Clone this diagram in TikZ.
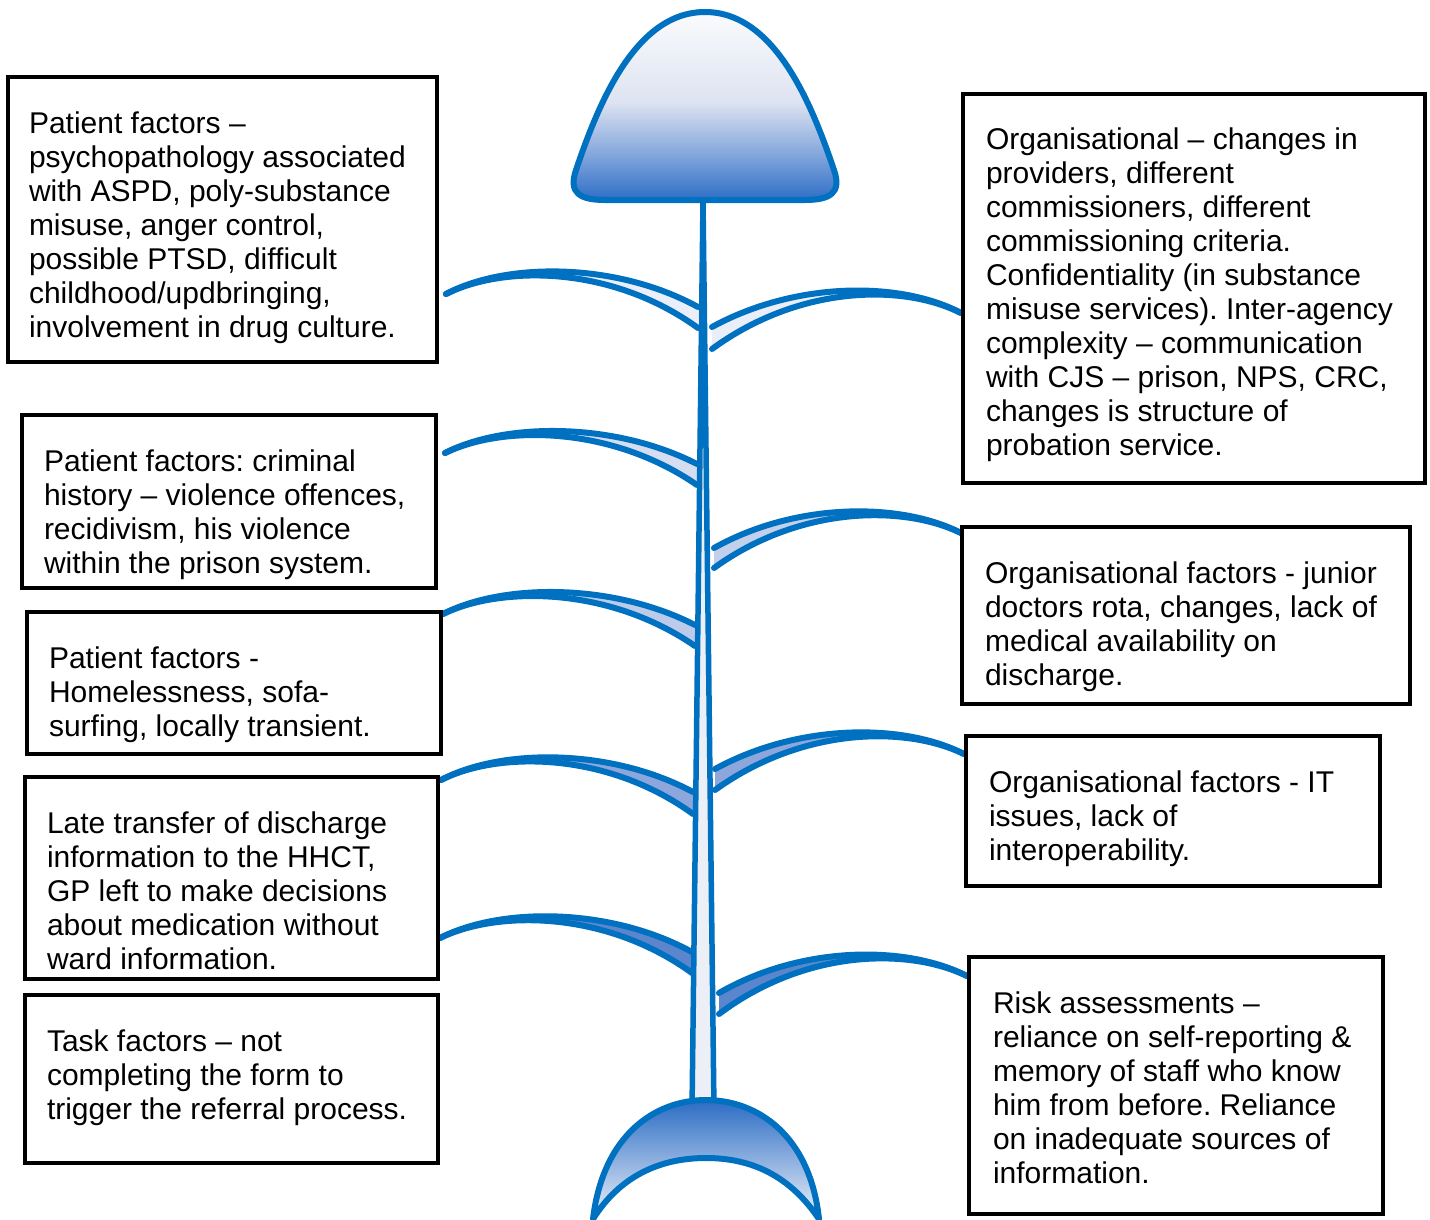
\documentclass[tikz,border=0pt]{standalone}
\usepackage{fontspec}
\setmainfont{Liberation Sans}
\frenchspacing
\definecolor{fishblue}{RGB}{0,112,192}
\definecolor{headA}{RGB}{46,110,198}
\definecolor{headB}{RGB}{137,170,221}
\definecolor{headC}{RGB}{221,227,241}
\definecolor{headD}{RGB}{250,251,253}
\definecolor{tailblue}{RGB}{43,108,196}
\definecolor{tailmid}{RGB}{160,182,226}
\definecolor{taillight}{RGB}{238,242,250}
\definecolor{spinefill}{RGB}{236,239,245}
\definecolor{ribA}{RGB}{233,238,248}
\definecolor{ribB}{RGB}{213,221,240}
\definecolor{ribC}{RGB}{195,208,236}
\definecolor{ribD}{RGB}{188,203,234}
\definecolor{ribE}{RGB}{141,166,220}
\definecolor{ribF}{RGB}{91,134,206}

% head gradient: white at the top, deep blue at the bottom
\pgfdeclareverticalshading{headshade}{100bp}{%
  color(0bp)=(headA); color(25bp)=(headA); color(38bp)=(headB);
  color(51bp)=(headC); color(75bp)=(headD); color(100bp)=(headD)}

% left rib: tip x, tip y, crest y, spine x, upper end y, lower end y, fill
\newcommand\fishribleft[7]{%
  \fill[#7] (#1,#2)
    .. controls ({#1+60},{#3-8}) and ({#1+170},{#3-8}) .. (#4,#5)
    -- (#4,#6)
    .. controls ({#1+168},{#3-3}) and ({#1+60},{#3-6}) .. (#1,#2) -- cycle;
  \draw[bone] (#1,#2) .. controls ({#1+60},{#3-8}) and ({#1+170},{#3-8}) .. (#4,#5);
  \draw[bone] (#4,#6) .. controls ({#1+168},{#3-3}) and ({#1+60},{#3-6}) .. (#1,#2);}
% right rib: tip x, tip y, crest y, spine x, upper end y, lower end y, fill
\newcommand\fishribright[7]{%
  \fill[#7] (#1,#2)
    .. controls ({#1-60},{#3-8}) and ({#1-165},{#3-8}) .. (#4,#5)
    -- (#4,#6)
    .. controls ({#1-163},{#3-3}) and ({#1-60},{#3-6}) .. (#1,#2) -- cycle;
  \draw[bone] (#1,#2) .. controls ({#1-60},{#3-8}) and ({#1-165},{#3-8}) .. (#4,#5);
  \draw[bone] (#4,#6) .. controls ({#1-163},{#3-3}) and ({#1-60},{#3-6}) .. (#1,#2);}

\begin{document}
\begin{tikzpicture}[x=1pt,y=-1pt,
  box/.style={draw=black, line width=4pt, inner sep=0pt, outer sep=0pt, anchor=north west},
  txt/.style={anchor=north west, inner sep=0pt, outer sep=0pt, align=left,
              font=\fontsize{30}{34}\selectfont, text=black},
  bone/.style={draw=fishblue, line width=6pt, line join=round, line cap=round},
]
\useasboundingbox[fill=white] (0,0) rectangle (1430,1219);

% ribs, left side
\fishribleft{446}{294}{270}{698}{307}{328}{ribA}
\fishribleft{445}{453}{430}{697}{464}{485}{ribB}
\fishribleft{443}{614}{591}{695}{625}{646}{ribD}
\fishribleft{441}{780}{756}{693}{792}{814}{ribE}
\fishribleft{440}{938}{915}{692}{952}{973}{ribF}

% ribs, right side
\fishribright{961}{313}{289}{712}{327}{349}{ribA}
\fishribright{961}{533}{510}{714}{548}{568}{ribC}
\fishribright{964}{754}{731}{715}{769}{790}{ribE}
\fishribright{967}{976}{953}{719}{993}{1014}{ribF}

% spine
\fill[spinefill] (703,200) -- (692,1110) -- (714,1110) -- cycle;
\draw[bone, line width=5.5pt, line cap=butt] (703,200) -- (692,1110);
\draw[bone, line width=5.5pt, line cap=butt] (703,200) -- (714,1110);

% head
\shadedraw[bone, shading=headshade]
  (705,12) .. controls (775,12) and (812,105) .. (834,170)
  .. controls (842,193) and (830,200) .. (805,200) -- (605,200)
  .. controls (580,200) and (568,193) .. (576,170)
  .. controls (598,105) and (635,12) .. (705,12) -- cycle;

% tail
\shadedraw[bone, top color=tailblue, middle color=tailmid, bottom color=taillight]
  (593,1219) .. controls (603,1135) and (655,1100) .. (706,1100)
  .. controls (757,1100) and (810,1135) .. (819,1219)
  .. controls (790,1176) and (752,1158) .. (706,1158)
  .. controls (660,1158) and (620,1176) .. (593,1219) -- cycle;

% cause boxes, left
\node[box, minimum width=429, minimum height=285] (bL1) at (8,77) {};
\node[txt] (tL1) at ([xshift=21pt,yshift=-35pt]bL1.north west)
  {Patient factors –\\psychopathology associated\\with ASPD, poly-substance\\misuse, anger control,\\possible PTSD, difficult\\childhood/updbringing,\\involvement in drug culture.};

\node[box, minimum width=414, minimum height=173] (bL2) at (22,415) {};
\node[txt] (tL2) at ([xshift=22pt,yshift=-35pt]bL2.north west)
  {Patient factors: criminal\\history – violence offences,\\recidivism, his violence\\within the prison system.};

\node[box, minimum width=414, minimum height=142] (bL3) at (27,612) {};
\node[txt] (tL3) at ([xshift=22pt,yshift=-35pt]bL3.north west)
  {Patient factors -\\Homelessness, sofa-\\surfing, locally transient.};

\node[box, minimum width=413, minimum height=202] (bL4) at (25,777) {};
\node[txt] (tL4) at ([xshift=22pt,yshift=-35pt]bL4.north west)
  {Late transfer of discharge\\information to the HHCT,\\GP left to make decisions\\about medication without\\ward information.};

\node[box, minimum width=413, minimum height=168] (bL5) at (25,995) {};
\node[txt] (tL5) at ([xshift=22pt,yshift=-35pt]bL5.north west)
  {Task factors – not\\completing the form to\\trigger the referral process.};

% cause boxes, right
\node[box, minimum width=462, minimum height=389] (bR1) at (963,94) {};
\node[txt] (tR1) at ([xshift=23pt,yshift=-34pt]bR1.north west)
  {Organisational – changes in\\providers, different\\commissioners, different\\commissioning criteria.\\Confidentiality (in substance\\misuse services). Inter-agency\\complexity – communication\\with CJS – prison, NPS, CRC,\\changes is structure of\\probation service.};

\node[box, minimum width=448, minimum height=177] (bR2) at (962,527) {};
\node[txt] (tR2) at ([xshift=23pt,yshift=-35pt]bR2.north west)
  {Organisational factors - junior\\doctors rota, changes, lack of\\medical availability on\\discharge.};

\node[box, minimum width=414, minimum height=150] (bR3) at (966,736) {};
\node[txt] (tR3) at ([xshift=23pt,yshift=-35pt]bR3.north west)
  {Organisational factors - IT\\issues, lack of\\interoperability.};

\node[box, minimum width=414, minimum height=257] (bR4) at (969,957) {};
\node[txt] (tR4) at ([xshift=24pt,yshift=-35pt]bR4.north west)
  {Risk assessments –\\reliance on self-reporting \&\\memory of staff who know\\him from before. Reliance\\on inadequate sources of\\information.};
\end{tikzpicture}
\end{document}
